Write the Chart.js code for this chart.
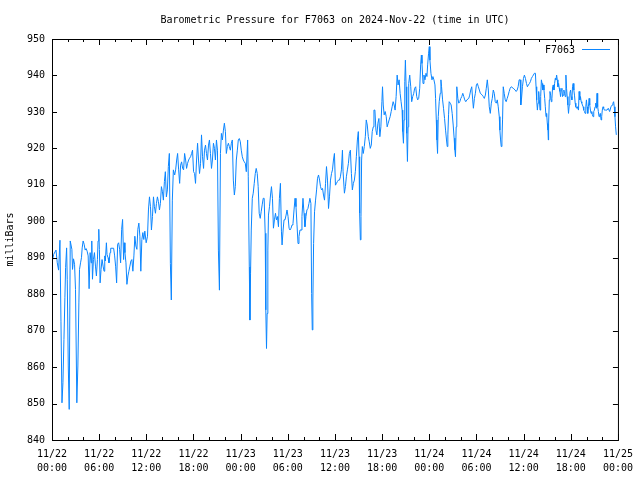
<!DOCTYPE html>
<html>
<head>
<meta charset="utf-8">
<script src="https://cdn.jsdelivr.net/npm/chart.js@4.4.1/dist/chart.umd.min.js"></script>
<style>
  body { margin: 0; background: #fff; }
  #wrap { width: 640px; height: 480px; }
</style>
</head>
<body>
<div id="wrap"><canvas id="pressureChart" width="640" height="480"></canvas></div>
<script>
// hours since 2024-11-22 00:00 UTC
const hours = [
  0.00,0.21,0.51,0.67,0.84,1.01,1.14,1.27,1.39,1.52,
  1.64,1.73,1.86,1.94,2.07,2.19,2.32,2.53,2.61,2.74,
  2.87,2.99,3.16,3.29,3.42,3.50,3.63,3.75,3.84,3.96,
  4.09,4.22,4.34,4.47,4.60,4.72,4.85,4.98,5.06,5.15,
  5.27,5.40,5.53,5.65,5.78,5.86,5.95,6.03,6.12,6.24,
  6.37,6.50,6.62,6.71,6.79,6.92,7.00,7.13,7.25,7.38,
  7.47,7.84,7.97,8.10,8.22,8.35,8.48,8.60,8.73,8.86,
  8.98,9.11,9.19,9.28,9.41,9.53,9.66,9.78,9.91,10.04,
  10.16,10.29,10.42,10.54,10.67,10.80,10.92,11.05,11.18,11.30,
  11.43,11.56,11.68,11.81,11.98,12.15,
  12.27,12.40,12.53,12.65,12.78,12.91,13.03,13.16,13.29,13.41,
  13.54,13.67,13.79,13.92,14.05,14.17,14.30,14.42,14.55,14.68,
  14.80,14.93,15.06,15.18,15.31,15.44,15.61,15.73,15.86,15.98,
  16.11,16.24,16.36,16.49,16.62,16.74,16.87,17.00,17.12,17.25,
  17.38,17.50,17.63,17.76,17.88,18.01,18.14,18.26,18.39,18.52,
  18.64,18.77,18.90,19.02,19.15,19.28,19.40,19.53,19.65,19.78,
  19.91,20.03,20.16,20.29,20.41,20.54,20.67,20.79,20.92,21.05,
  21.17,21.30,21.43,21.55,21.68,21.81,21.93,22.06,22.18,22.31,
  22.44,22.56,22.69,22.82,22.94,23.07,23.20,23.32,23.45,23.58,
  23.70,23.83,23.96,24.08,24.21,24.34,24.46,24.59,24.72,
  24.89,24.97,25.10,25.18,25.26,25.35,25.48,25.60,25.73,25.86,
  25.98,26.11,26.23,26.36,26.49,26.61,26.74,26.87,26.99,27.12,
  27.20,27.29,27.37,27.46,27.54,27.67,27.80,27.92,28.05,28.17,
  28.30,28.43,28.55,28.68,28.81,28.93,29.06,29.19,29.27,29.40,
  29.52,29.65,29.78,29.90,30.03,30.16,30.28,30.41,30.54,30.66,
  30.79,30.92,31.04,31.17,31.30,31.42,31.55,31.68,31.80,31.93,
  32.06,32.18,32.31,32.43,32.56,32.69,32.81,32.94,33.03,33.11,
  33.19,33.28,33.40,33.53,33.66,33.78,33.91,34.04,34.16,34.29,
  34.42,34.54,34.67,34.80,34.92,35.05,35.18,35.30,35.43,35.56,
  35.68,35.81,35.93,36.06,36.19,36.31,36.44,36.57,36.69,36.82,
  36.95,37.03,
  37.20,37.33,37.45,37.58,37.71,37.83,37.96,38.09,38.21,38.34,
  38.47,38.59,38.72,38.85,38.97,39.06,39.14,39.23,39.31,39.39,
  39.48,39.60,39.73,39.86,39.98,40.11,40.24,40.36,40.49,40.62,
  40.74,40.87,40.96,41.08,41.21,41.33,41.46,41.59,41.71,41.84,
  41.97,42.05,42.14,42.26,42.39,42.52,42.64,42.77,42.89,43.02,
  43.15,43.27,43.40,43.53,43.65,43.78,43.91,44.03,44.16,44.29,
  44.41,44.54,44.62,44.71,44.79,44.88,44.96,45.05,45.13,45.22,
  45.30,45.38,45.51,45.64,45.76,45.89,46.02,46.14,46.27,46.40,
  46.52,46.65,46.78,46.90,46.99,47.07,47.20,47.32,47.45,47.58,
  47.70,47.79,47.91,48.00,48.08,48.21,48.34,
  48.46,48.59,48.72,48.80,48.89,48.97,49.05,49.14,49.26,49.39,
  49.48,49.56,49.69,49.81,49.94,50.07,50.19,50.28,50.36,50.45,
  50.53,50.66,50.78,50.91,51.04,51.16,51.25,51.33,51.42,51.50,
  51.63,51.75,51.88,52.01,52.13,52.26,52.39,52.51,52.64,52.77,
  53.02,53.14,53.27,53.40,53.52,53.61,53.74,53.86,53.99,54.11,
  54.24,54.37,54.49,54.75,54.87,55.00,55.13,55.25,55.38,55.51,
  55.63,55.76,55.89,56.01,56.14,56.27,56.39,56.52,56.65,56.77,
  56.90,56.98,57.07,57.15,57.24,57.32,57.41,57.53,57.66,57.78,
  57.91,58.04,58.16,58.29,58.42,58.67,58.92,59.05,59.18,59.30,
  59.43,59.56,59.64,59.72,59.85,59.98,60.10,60.23,60.36,60.48,
  60.61,60.74,60.86,60.99,61.12,61.24,61.37,61.50,61.58,61.66,
  61.75,61.83,61.92,62.00,62.09,62.17,62.26,62.34,62.42,62.51,
  62.59,62.68,62.76,62.85,62.93,63.01,63.10,63.14,63.18,63.27,
  63.35,63.44,63.52,63.60,63.69,63.77,63.86,63.94,64.03,64.11,
  64.20,64.28,64.36,64.45,64.53,64.62,64.70,64.79,64.87,64.95,
  65.04,65.12,65.21,65.29,65.38,65.46,65.54,65.63,65.71,65.80,
  65.88,65.97,66.05,66.14,66.22,66.30,66.39,66.47,66.56,66.64,
  66.73,66.81,66.89,66.98,67.06,67.15,67.23,67.32,67.40,67.48,
  67.57,67.65,67.74,67.82,67.91,67.99,68.07,68.16,68.24,68.33,
  68.41,68.50,68.58,68.67,68.75,68.83,68.92,69.00,69.09,69.17,
  69.26,69.34,69.42,69.51,69.59,69.68,69.76,69.85,69.93,70.01,
  70.10,70.18,70.27,70.44,70.61,70.77,70.94,71.11,71.28,71.36,
  71.45,71.53,71.62,71.70,71.79
];

// station pressure, millibars
const pressure = [
  888.6,890.9,892.1,888.6,886.6,894.8,872.6,850.2,855.7,867.6,
  879.0,887.3,892.7,884.1,860.3,848.4,894.6,892.3,886.8,889.7,
  888.2,881.3,850.2,860.3,877.6,886.8,888.6,890.0,892.7,894.6,
  893.7,892.1,892.5,891.8,890.5,881.5,891.4,888.6,894.6,884.1,
  889.5,891.4,887.7,885.0,889.5,894.6,897.8,892.3,883.1,886.8,
  889.5,887.7,886.3,890.5,889.1,894.1,890.9,890.0,888.6,891.4,
  892.6,892.6,890.5,887.5,883.1,893.7,894.1,892.3,888.6,897.8,
  900.5,889.5,894.1,891.4,888.6,882.7,885.0,886.3,887.7,889.1,
  889.5,886.3,890.5,895.9,893.2,892.3,897.8,899.5,895.9,886.3,
  895.0,896.9,895.0,897.3,894.1,895.9,
  903.1,906.7,904.0,897.6,901.3,906.7,904.0,902.2,904.9,906.7,
  905.4,903.1,904.9,909.5,908.1,905.8,910.9,913.6,906.7,908.6,
  915.0,918.6,888.4,878.4,905.8,914.1,912.7,914.1,916.8,918.6,
  914.1,910.4,915.4,916.3,914.5,914.1,918.6,916.8,914.5,915.9,
  916.8,917.3,917.7,918.6,919.5,913.6,913.1,910.4,916.8,921.4,
  916.8,913.1,915.9,923.7,917.7,914.5,919.5,920.9,918.6,916.8,
  920.9,922.3,918.6,914.5,916.8,921.4,920.0,916.8,922.3,919.5,
  892.1,881.1,918.6,924.1,922.3,925.0,926.9,924.6,918.6,920.5,
  921.4,920.5,919.5,921.4,922.3,911.3,907.2,909.5,916.8,919.5,
  922.3,922.7,921.8,919.5,917.7,916.8,916.3,915.9,913.6,
  922.3,912.2,887.5,872.9,885.7,897.6,906.3,907.7,910.4,913.1,
  914.5,913.1,909.5,902.2,900.8,902.6,904.5,906.3,906.3,896.7,
  875.7,865.1,874.7,892.1,901.7,904.0,907.2,909.5,906.3,898.1,
  900.4,902.2,900.4,901.3,898.5,906.3,910.4,897.1,893.5,897.6,
  900.4,900.4,901.7,903.1,901.3,898.1,897.6,898.1,899.0,899.4,
  903.1,906.3,904.0,899.0,893.9,895.8,897.6,897.6,901.3,906.3,
  902.2,898.5,901.3,903.1,903.5,904.9,906.3,904.9,880.2,870.2,
  878.4,893.9,902.6,905.8,908.6,911.8,912.7,911.3,909.5,908.6,
  909.0,907.2,905.8,910.4,915.0,911.3,903.5,906.7,911.3,913.1,
  914.1,916.8,918.6,909.9,910.4,910.9,911.3,911.3,912.2,914.1,
  919.5,913.6,
  907.7,909.5,912.2,914.1,915.9,918.6,919.5,913.1,908.6,910.4,
  911.3,913.6,917.7,922.3,924.6,917.7,902.2,894.9,901.3,916.8,
  920.5,918.6,920.5,923.2,927.8,926.4,923.2,921.8,920.0,920.9,
  924.6,925.9,930.5,930.5,925.0,923.7,926.9,928.2,923.2,925.9,
  932.8,936.9,931.9,929.2,930.1,928.7,925.9,926.9,927.8,928.7,
  930.1,931.4,932.8,931.9,930.5,934.2,940.1,937.4,938.8,935.1,
  932.8,930.5,924.6,921.4,927.8,938.3,944.2,936.9,924.1,916.4,
  925.9,937.8,940.1,936.9,932.8,934.2,935.1,936.5,936.9,934.2,
  933.3,933.7,936.5,942.9,945.6,943.3,937.8,940.1,938.8,940.6,
  939.7,942.9,946.1,947.9,944.2,940.6,938.8,
  939.7,938.8,937.4,933.7,927.8,922.3,918.6,928.7,932.8,935.1,
  938.8,936.9,933.3,931.0,928.2,925.0,922.3,920.5,923.7,929.2,
  932.8,932.4,931.9,929.6,926.4,922.8,919.6,917.7,925.9,936.9,
  933.7,932.4,932.8,933.7,934.2,935.1,934.2,933.3,932.8,933.3,
  933.7,934.6,936.0,936.9,933.3,931.0,933.7,935.1,937.4,937.8,
  936.9,936.0,935.1,934.6,934.2,933.7,934.6,936.5,938.8,936.0,
  931.4,929.6,932.4,933.7,936.0,935.1,932.8,932.4,933.3,931.4,
  928.7,925.0,922.3,920.5,922.3,927.8,936.9,935.1,933.3,932.8,
  933.7,934.6,935.6,936.5,936.9,936.5,936.0,935.6,936.0,936.9,
  938.8,938.8,931.9,933.3,936.9,939.2,940.1,939.2,937.8,936.9,
  937.4,937.8,938.3,939.2,939.7,940.1,940.6,940.6,936.9,933.3,
  930.5,932.4,935.6,933.3,930.5,934.2,938.8,937.8,936.0,937.4,
  936.0,933.7,931.4,928.7,929.6,926.9,925.0,922.3,926.9,933.3,
  935.6,934.6,932.8,933.7,936.9,937.4,936.0,937.8,939.2,938.8,
  940.1,938.8,936.9,937.8,936.5,935.6,934.2,936.0,936.5,934.2,
  934.6,936.0,935.1,934.2,940.1,936.5,934.2,931.9,929.6,931.9,
  935.1,936.0,934.2,933.3,936.9,937.8,936.0,934.6,932.4,931.4,
  931.0,931.4,931.0,930.5,935.6,933.3,934.2,932.8,932.4,931.9,
  931.4,930.5,930.1,929.6,931.4,933.3,931.4,929.6,931.4,933.7,
  931.9,930.5,929.6,930.1,929.2,928.7,930.1,930.5,931.4,932.4,
  931.0,935.1,931.4,930.1,928.7,929.2,929.6,927.8,928.7,930.5,
  931.4,931.0,930.5,930.5,930.5,931.0,930.1,931.4,931.9,932.4,
  932.8,931.4,928.7,925.9,923.7
];

// x tick labels, every 6 hours
const tickLabels = [
  ["11/22", "00:00"], ["11/22", "06:00"], ["11/22", "12:00"], ["11/22", "18:00"],
  ["11/23", "00:00"], ["11/23", "06:00"], ["11/23", "12:00"], ["11/23", "18:00"],
  ["11/24", "00:00"], ["11/24", "06:00"], ["11/24", "12:00"], ["11/24", "18:00"],
  ["11/25", "00:00"]
];

const stationName = "F7063";
const chartTitle = "Barometric Pressure for F7063 on 2024-Nov-22 (time in UTC)";
const FONT = "'DejaVu Sans Mono', 'Liberation Mono', monospace";

const points = hours.map((h, i) => ({ x: h, y: pressure[i] }));

// gnuplot style frame: border, inward ticks on all sides, title and key
const framePlugin = {
  id: "frame",
  afterDraw(chart) {
    const { ctx, chartArea: a, scales } = chart;
    const x = scales.x, y = scales.y;
    ctx.save();
    ctx.strokeStyle = "#000";
    ctx.lineWidth = 1;
    ctx.beginPath();
    for (let h = 0; h <= 72; h += 2) {
      const px = Math.round(x.getPixelForValue(h)) + 0.5;
      const len = h % 6 === 0 ? 6 : 3;
      ctx.moveTo(px, a.bottom); ctx.lineTo(px, a.bottom - len);
      ctx.moveTo(px, a.top); ctx.lineTo(px, a.top + len);
    }
    for (let v = 840; v <= 950; v += 10) {
      const py = Math.round(y.getPixelForValue(v)) + 0.5;
      ctx.moveTo(a.left, py); ctx.lineTo(a.left + 5, py);
      ctx.moveTo(a.right, py); ctx.lineTo(a.right - 5, py);
    }
    ctx.stroke();
    ctx.strokeRect(a.left + 0.5, a.top + 0.5, a.right - a.left, a.bottom - a.top);

    ctx.fillStyle = "#000";
    ctx.font = "10px " + FONT;
    ctx.textBaseline = "middle";
    ctx.textAlign = "center";
    ctx.fillText(chartTitle, (a.left + a.right) / 2, 20);

    // key
    ctx.textAlign = "right";
    ctx.fillText(stationName, 575, 50);
    ctx.strokeStyle = chart.data.datasets[0].borderColor;
    ctx.beginPath();
    ctx.moveTo(582, 49.5); ctx.lineTo(610, 49.5);
    ctx.stroke();
    ctx.restore();
  }
};

new Chart(document.getElementById("pressureChart"), {
  type: "line",
  data: {
    datasets: [
      {
        label: stationName,
        data: points,
        borderColor: "#0a85ff",
        borderWidth: 1,
        pointRadius: 0,
        tension: 0,
        fill: false,
      },
    ],
  },
  options: {
    responsive: false,
    animation: false,
    layout: { padding: { top: 39, right: 19, left: 0, bottom: 0 } },
    plugins: {
      legend: { display: false },
      title: { display: false },
      tooltip: { enabled: false },
    },
    scales: {
      x: {
        type: "linear",
        min: 0,
        max: 72,
        grid: { display: false, drawTicks: false },
        border: { display: false },
        ticks: {
          stepSize: 6,
          autoSkip: false,
          maxRotation: 0,
          padding: 7,
          color: "#000",
          font: { family: FONT, size: 10, lineHeight: 1.4 },
          callback: (v) => tickLabels[v / 6],
        },
        afterFit: (s) => { s.height = 40; },
      },
      y: {
        min: 840,
        max: 950,
        grid: { display: false, drawTicks: false },
        border: { display: false },
        ticks: {
          stepSize: 10,
          padding: 7,
          color: "#000",
          font: { family: FONT, size: 10 },
        },
        title: {
          display: true,
          text: "milliBars",
          color: "#000",
          padding: { top: 4, bottom: 0 },
          font: { family: FONT, size: 10 },
        },
        afterFit: (s) => { s.width = 52; },
      },
    },
  },
  plugins: [framePlugin],
});
</script>
</body>
</html>
